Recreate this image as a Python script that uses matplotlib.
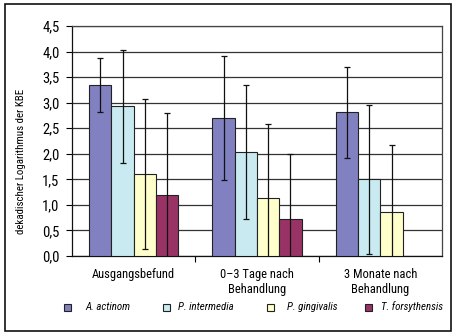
import numpy as np
import matplotlib
matplotlib.use("Agg")
import matplotlib.pyplot as plt
from matplotlib.patches import Rectangle

# Data
categories = ["Ausgangsbefund", "0\u20133 Tage nach\nBehandlung", "3 Monate nach\nBehandlung"]
species = ["A. actinom", "P. intermedia", "P. gingivalis", "T. forsythensis"]

actinom = [3.35, 2.70, 2.81]
actinom_err = [0.53, 1.21, 0.89]
intermedia = [2.93, 2.03, 1.50]
intermedia_err = [1.11, 1.31, 1.46]
gingivalis = [1.60, 1.14, 0.86]
gingivalis_err = [1.47, 1.45, 1.32]
forsythensis = [1.20, 0.72, np.nan]
forsythensis_err = [1.59, 1.28, np.nan]

yticks = [0.0, 0.5, 1.0, 1.5, 2.0, 2.5, 3.0, 3.5, 4.0, 4.5]

colors = ["#8181C1", "#C8EAF0", "#FFFFCC", "#993366"]

plt.rcParams['font.family'] = ['Roboto Condensed', 'DejaVu Sans']

fig = plt.figure(figsize=(4.61, 3.36), dpi=100)
ax = fig.add_axes([0.1562, 0.2381, 0.8026, 0.6845])

values = [actinom, intermedia, gingivalis, forsythensis]
errors = [actinom_err, intermedia_err, gingivalis_err, forsythensis_err]
x = np.arange(len(categories))
width = 0.181

for i, (vals, errs) in enumerate(zip(values, errors)):
    pos = x + (i - 1.5) * width
    ax.bar(pos, vals, width, color=colors[i], edgecolor="#222222",
           linewidth=0.8, zorder=3, label=species[i])
    ax.errorbar(pos, vals, yerr=errs, fmt="none", ecolor="#111111",
                elinewidth=0.9, capsize=2.2, capthick=0.9, zorder=4)

ax.set_xlim(-0.5, 2.5)
ax.set_ylim(0, 4.5)
ax.set_yticks(yticks)
ax.set_yticklabels([f"{t:.1f}".replace(".", ",") for t in yticks], fontsize=10.5)
ax.yaxis.grid(True, color="#333333", linewidth=0.9, zorder=0)
ax.tick_params(axis="y", direction="out", length=4, width=0.8, pad=5)

ax.set_xticks(x)
ax.set_xticklabels(categories, fontsize=9, linespacing=1.15)
ax.set_xticks([0.5, 1.5], minor=True)
ax.tick_params(axis="x", which="major", length=0, pad=9)
ax.tick_params(axis="x", which="minor", direction="out", length=4, width=0.8)

for side in ["left", "bottom"]:
    ax.spines[side].set_color("#111111")
    ax.spines[side].set_linewidth(0.9)
for side in ["top", "right"]:
    ax.spines[side].set_color("#444444")
    ax.spines[side].set_linewidth(0.9)

fig.text(0.045, 0.52, "dekadischer Logarithmus der KBE", rotation=90,
         ha="center", va="center", fontsize=7.8)

# legend row: small swatches with italic names
swatch_x = [67, 166, 270, 368]
text_x = [85, 178, 287, 381]
W, H = 461.0, 336.0
for c, name, sx, tx in zip(colors, species, swatch_x, text_x):
    fig.patches.append(Rectangle(((sx - 3.5) / W, 1 - (307 + 3.5) / H), 7 / W, 7 / H,
                                 transform=fig.transFigure, facecolor=c,
                                 edgecolor="#222222", linewidth=0.8))
    fig.text(tx / W, 1 - 307 / H, name, ha="left", va="center",
             fontsize=7.8, style="italic")

fig.patches.append(Rectangle((0.0108, 0.0149), 0.9675, 0.973, transform=fig.transFigure,
                             fill=False, edgecolor="#111111", linewidth=1.2))

fig.savefig("out.png", dpi=100)
